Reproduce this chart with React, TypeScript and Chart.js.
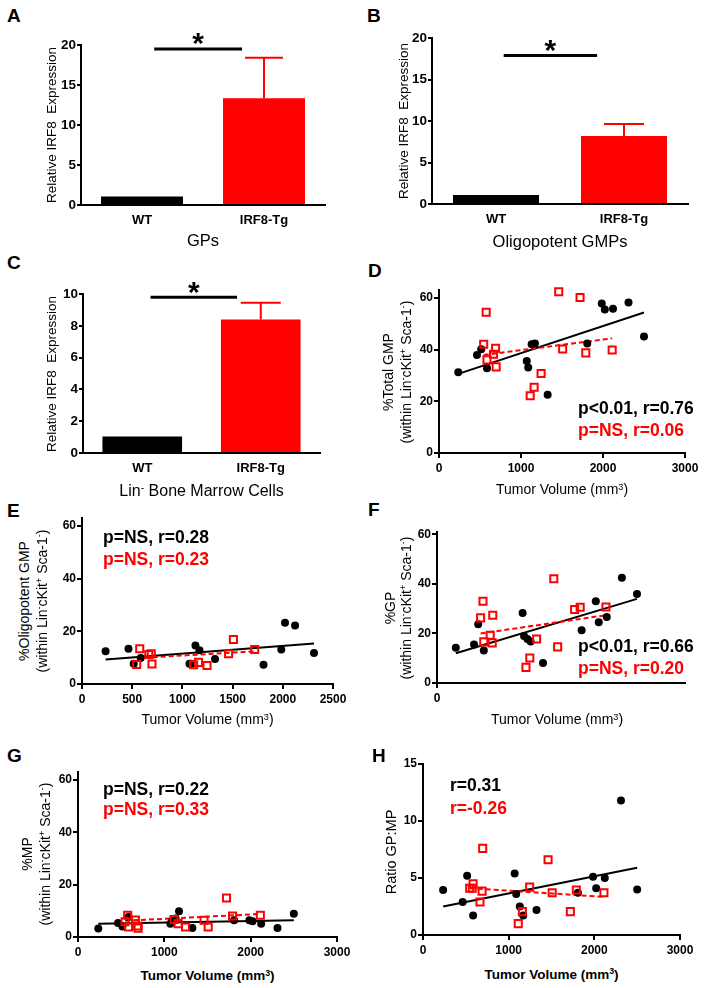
import React, { useEffect, useRef } from "react";
import { Chart, registerables } from "chart.js";

Chart.register(...registerables);

const FONT = "'Liberation Sans', Arial, Helvetica, sans-serif";
const BLACK = "#000000";
const RED = "#ff0000";

// ---------- Bar panels (A–C) ----------
const barCategories = ["WT", "IRF8-Tg"];
const gpsMean = [1.05, 13.35];
const gpsErrorTop = [1.05, 18.4];
const oligoGmpMean = [1.08, 8.2];
const oligoGmpErrorTop = [1.08, 9.65];
const linNegMean = [1.03, 8.4];
const linNegErrorTop = [1.03, 9.45];
// significance bar: from category index, to category index, level
const sigGps = [0.1, 0.82, 19.5];
const sigOligoGmp = [0.06, 0.79, 17.9];
const sigLinNeg = [0.07, 0.8, 9.8];

// ---------- Scatter panels (D–H) ----------
const wtVolume = [235, 463, 515, 585, 1070, 1088, 1130, 1170, 1325, 1808, 1985, 2022, 2122, 2311, 2500];
const wtTotalGmp = [31.2, 37.9, 40.1, 32.8, 35.6, 33.0, 42.0, 42.3, 22.5, 42.3, 57.8, 55.5, 55.8, 58.2, 45.0];
const wtOligoGmp = [12.4, 13.4, 7.7, 9.9, 7.7, 7.7, 14.6, 12.8, 9.5, 7.3, 13.1, 23.2, 22.2, 11.8, null];
const wtGp = [14.2, 15.6, 23.7, 13.1, 28.3, 19.0, 17.8, 16.8, 8.1, 21.3, 33.0, 24.5, 26.7, 42.5, 36.0];
const wtMp = [3.2, 5.3, 4.0, 7.6, 5.1, 6.0, 7.1, 9.8, 3.4, 6.4, 6.4, 6.0, 5.1, 3.4, 8.9];
const wtRatio = [3.95, 2.9, 5.2, 1.7, 5.4, 3.6, 2.5, 1.7, 2.2, 3.7, 5.1, 4.1, 5.0, 11.8, 4.0];

const tgVolume = [545, 575, 585, 665, 690, 697, 1112, 1160, 1245, 1460, 1508, 1720, 1790, 2112];
const tgTotalGmp = [42.0, 54.4, 36.0, 38.2, 40.5, 33.3, 22.1, 25.4, 30.7, 62.3, 40.2, 60.1, 38.7, 39.8];
const tgOligoGmp = [7.4, 13.4, null, 11.2, 11.5, 7.6, 7.3, 8.2, 7.0, 11.5, 16.9, 13.1, null, null];
const tgGp = [26.3, 33.0, 16.6, 19.3, 16.2, 27.4, 6.3, 10.1, 17.8, 42.1, 14.6, 29.7, 30.6, 30.7];
const tgMp = [5.8, 8.3, 3.8, 6.5, 4.2, 3.4, 6.7, 5.1, 3.8, 6.4, 3.8, 14.9, 8.0, 8.3];
const tgRatio = [4.1, 4.1, 4.5, 2.9, 3.85, 7.6, 1.0, 2.05, 4.2, 6.6, 3.7, 2.05, 3.95, 3.7];

// regression lines (x range and fitted y at both ends)
const wtFitRange = [235, 2500];
const tgFitRange = [545, 2112];
const wtOligoFitRange = [235, 2311];
const tgOligoFitRange = [545, 1720];
const fitTotalGmpWt = [30.6, 54.3];
const fitTotalGmpTg = [37.9, 44.3];
const fitOligoGmpWt = [9.3, 15.4];
const fitOligoGmpTg = [9.8, 12.4];
const fitGpWt = [12.0, 34.0];
const fitGpTg = [20.0, 27.4];
const fitMpWt = [5.1, 6.4];
const fitMpTg = [6.2, 8.8];
const fitRatioWt = [2.5, 5.9];
const fitRatioTg = [4.1, 3.35];

const statsTotalGmp = ["p<0.01, r=0.76", "p=NS, r=0.06"];
const statsOligoGmp = ["p=NS, r=0.28", "p=NS, r=0.23"];
const statsGp = ["p<0.01, r=0.66", "p=NS, r=0.20"];
const statsMp = ["p=NS, r=0.22", "p=NS, r=0.33"];
const statsRatio = ["r=0.31", "r=-0.26"];

type Box = { L: number; T: number; R: number; B: number };
type Pad = { l: number; t: number; r: number; b: number };

function padFor(box: Box): Pad {
  return { l: 46, t: 22, r: Math.min(20, 704 - box.R), b: 30 };
}

const axisBorder = { display: true, color: BLACK, width: 2 };
const tickFont = (size: number) => ({ family: FONT, size, weight: "bold" as const });

function barMarksPlugin(means: number[], errTop: number[], sig: number[], capWidth: number) {
  return {
    id: "barMarks",
    afterDatasetsDraw(chart: any) {
      const { ctx } = chart;
      const x = chart.scales.x;
      const y = chart.scales.y;
      ctx.save();
      errTop.forEach((top, i) => {
        if (top <= means[i]) return;
        const cx = x.getPixelForValue(i);
        const y0 = y.getPixelForValue(means[i]);
        const y1 = y.getPixelForValue(top);
        ctx.strokeStyle = i === 0 ? BLACK : RED;
        ctx.lineWidth = 2;
        ctx.beginPath();
        ctx.moveTo(cx, y0);
        ctx.lineTo(cx, y1);
        ctx.moveTo(cx - capWidth / 2, y1);
        ctx.lineTo(cx + capWidth / 2, y1);
        ctx.stroke();
      });
      const sx0 = x.getPixelForValue(sig[0]);
      const sx1 = x.getPixelForValue(sig[1]);
      const sy = y.getPixelForValue(sig[2]);
      ctx.strokeStyle = BLACK;
      ctx.lineWidth = 3;
      ctx.beginPath();
      ctx.moveTo(sx0, sy);
      ctx.lineTo(sx1, sy);
      ctx.stroke();
      const fs = 30;
      ctx.fillStyle = BLACK;
      ctx.font = `bold ${fs}px ${FONT}`;
      ctx.textAlign = "center";
      ctx.textBaseline = "alphabetic";
      ctx.fillText("*", (sx0 + sx1) / 2, sy - 17 + 0.716 * fs);
      ctx.restore();
    },
  };
}

function barConfig(means: number[], errTop: number[], sig: number[], yMax: number, yStep: number, capWidth: number, pad: Pad): any {
  return {
    type: "bar",
    data: {
      labels: barCategories,
      datasets: [
        {
          label: "Relative IRF8 Expression",
          data: means,
          backgroundColor: [BLACK, RED],
          borderWidth: 0,
          barPercentage: 0.84,
          categoryPercentage: 0.8,
        },
      ],
    },
    options: {
      animation: false,
      responsive: false,
      maintainAspectRatio: false,
      devicePixelRatio: 1,
      events: [],
      layout: { padding: { left: 0, top: pad.t, right: pad.r, bottom: 0 } },
      plugins: { legend: { display: false }, tooltip: { enabled: false } },
      scales: {
        x: {
          grid: { display: false, drawTicks: false },
          border: axisBorder,
          ticks: { color: BLACK, padding: 8, font: tickFont(13), maxRotation: 0 },
          afterFit: (s: any) => {
            s.height = pad.b;
          },
        },
        y: {
          min: 0,
          max: yMax,
          border: axisBorder,
          grid: { drawOnChartArea: false, drawTicks: true, tickLength: 4, color: BLACK, lineWidth: 2 },
          ticks: { stepSize: yStep, color: BLACK, padding: 1, font: tickFont(13.5), callback: (v: any) => String(v) },
          afterFit: (s: any) => {
            s.width = pad.l;
          },
        },
      },
    },
    plugins: [barMarksPlugin(means, errTop, sig, capWidth)],
  };
}

type ScatterSpec = {
  wtY: (number | null)[];
  tgY: (number | null)[];
  wtFitX: number[];
  wtFitY: number[];
  tgFitX: number[];
  tgFitY: number[];
  xMax: number;
  xStep: number;
  yMax: number;
  yStep: number;
};

function toPoints(xs: number[], ys: (number | null)[]) {
  return xs.map((x, i) => ({ x, y: ys[i] })).filter((p) => p.y !== null && p.y !== undefined);
}

function scatterConfig(s: ScatterSpec, pad: Pad): any {
  return {
    type: "scatter",
    data: {
      datasets: [
        {
          label: "IRF8-Tg",
          data: toPoints(tgVolume, s.tgY),
          pointStyle: "rect",
          pointRadius: 5,
          backgroundColor: "rgba(255,255,255,0)",
          borderColor: RED,
          borderWidth: 2,
          clip: false,
          order: 0,
        },
        {
          label: "WT",
          data: toPoints(wtVolume, s.wtY),
          pointStyle: "circle",
          pointRadius: 4,
          backgroundColor: BLACK,
          borderColor: BLACK,
          borderWidth: 0,
          clip: false,
          order: 1,
        },
        {
          label: "IRF8-Tg fit",
          data: toPoints(s.tgFitX, s.tgFitY),
          showLine: true,
          borderColor: RED,
          borderWidth: 2,
          borderDash: [5, 3],
          pointRadius: 0,
          clip: false,
          order: 2,
        },
        {
          label: "WT fit",
          data: toPoints(s.wtFitX, s.wtFitY),
          showLine: true,
          borderColor: BLACK,
          borderWidth: 2,
          pointRadius: 0,
          clip: false,
          order: 3,
        },
      ],
    },
    options: {
      animation: false,
      responsive: false,
      maintainAspectRatio: false,
      devicePixelRatio: 1,
      events: [],
      layout: { padding: { left: 0, top: pad.t, right: pad.r, bottom: 0 } },
      plugins: { legend: { display: false }, tooltip: { enabled: false } },
      scales: {
        x: {
          type: "linear",
          min: 0,
          max: s.xMax,
          border: axisBorder,
          grid: { drawOnChartArea: false, drawTicks: true, tickLength: 5, color: BLACK, lineWidth: 2 },
          ticks: {
            stepSize: s.xStep,
            includeBounds: false,
            autoSkip: false,
            maxRotation: 0,
            color: BLACK,
            padding: 3,
            font: tickFont(12),
            callback: (v: any) => String(v),
          },
          afterBuildTicks: (sc: any) => {
            sc.ticks = sc.ticks.filter((t: any) => t.value % s.xStep === 0);
          },
          afterFit: (sc: any) => {
            sc.height = pad.b;
          },
        },
        y: {
          type: "linear",
          min: 0,
          max: s.yMax,
          border: axisBorder,
          grid: { drawOnChartArea: false, drawTicks: true, tickLength: 5, color: BLACK, lineWidth: 2 },
          ticks: {
            stepSize: s.yStep,
            includeBounds: false,
            color: BLACK,
            padding: 1,
            font: tickFont(12),
            callback: (v: any) => String(v),
          },
          afterBuildTicks: (sc: any) => {
            sc.ticks = sc.ticks.filter((t: any) => t.value % s.yStep === 0);
          },
          afterFit: (sc: any) => {
            sc.width = pad.l;
          },
        },
      },
    },
  };
}

function ChartBox({ box, make }: { box: Box; make: (pad: Pad) => any }) {
  const ref = useRef<HTMLCanvasElement | null>(null);
  const pad = padFor(box);
  const w = box.R - box.L + pad.l + pad.r;
  const h = box.B - box.T + pad.t + pad.b;
  useEffect(() => {
    if (!ref.current) return;
    const chart = new Chart(ref.current, make(pad));
    return () => chart.destroy();
  }, []);
  return (
    <canvas
      ref={ref}
      width={w}
      height={h}
      style={{ position: "absolute", left: box.L - pad.l, top: box.T - pad.t, width: w, height: h }}
    />
  );
}

const Sup = ({ children }: { children: React.ReactNode }) => (
  <span style={{ fontSize: "0.65em", position: "relative", top: "-0.5em" }}>{children}</span>
);

function Txt({
  x,
  capTop,
  size,
  bold,
  color,
  center,
  children,
}: {
  x: number;
  capTop: number;
  size: number;
  bold?: boolean;
  color?: string;
  center?: boolean;
  children: React.ReactNode;
}) {
  return (
    <div
      style={{
        position: "absolute",
        left: x,
        top: capTop - 0.13 * size,
        fontSize: size,
        lineHeight: 1,
        fontFamily: FONT,
        fontWeight: bold ? 700 : 400,
        color: color || BLACK,
        whiteSpace: "pre",
        transform: center ? "translateX(-50%)" : undefined,
      }}
    >
      {children}
    </div>
  );
}

function VTxt({ cx, cy, size, children }: { cx: number; cy: number; size: number; children: React.ReactNode }) {
  return (
    <div
      style={{
        position: "absolute",
        left: cx,
        top: cy,
        fontSize: size,
        lineHeight: 1,
        fontFamily: FONT,
        color: BLACK,
        whiteSpace: "pre",
        transform: "translate(-50%, -50%) rotate(-90deg)",
      }}
    >
      {children}
    </div>
  );
}

const within = (
  <>
    (within Lin<Sup>-</Sup>cKit<Sup>+</Sup> Sca-1<Sup>-</Sup>)
  </>
);

const tumorTitle = (
  <>
    Tumor Volume (mm<Sup>3</Sup>)
  </>
);

const boxA: Box = { L: 81, T: 45, R: 325, B: 205 };
const boxB: Box = { L: 432, T: 38, R: 688, B: 204 };
const boxC: Box = { L: 83, T: 294, R: 320, B: 453 };
const boxD: Box = { L: 439, T: 290, R: 685, B: 453 };
const boxE: Box = { L: 82, T: 518, R: 333, B: 684 };
const boxF: Box = { L: 437, T: 532, R: 685, B: 683 };
const boxG: Box = { L: 78, T: 772, R: 337, B: 937 };
const boxH: Box = { L: 423, T: 764, R: 680, B: 935 };

export default function App() {
  const annSize = 17.5;
  return (
    <div
      style={{
        position: "absolute",
        left: 0,
        top: 0,
        width: 704,
        height: 988,
        overflow: "hidden",
        background: "#ffffff",
      }}
    >
      <ChartBox box={boxA} make={(pad) => barConfig(gpsMean, gpsErrorTop, sigGps, 20, 5, 38, pad)} />
      <ChartBox box={boxB} make={(pad) => barConfig(oligoGmpMean, oligoGmpErrorTop, sigOligoGmp, 20, 5, 40, pad)} />
      <ChartBox box={boxC} make={(pad) => barConfig(linNegMean, linNegErrorTop, sigLinNeg, 10, 2, 40, pad)} />
      <ChartBox
        box={boxD}
        make={(pad) =>
          scatterConfig(
            { wtY: wtTotalGmp, tgY: tgTotalGmp, wtFitX: wtFitRange, wtFitY: fitTotalGmpWt, tgFitX: tgFitRange, tgFitY: fitTotalGmpTg, xMax: 3000, xStep: 1000, yMax: 63, yStep: 20 },
            pad
          )
        }
      />
      <ChartBox
        box={boxE}
        make={(pad) =>
          scatterConfig(
            { wtY: wtOligoGmp, tgY: tgOligoGmp, wtFitX: wtOligoFitRange, wtFitY: fitOligoGmpWt, tgFitX: tgOligoFitRange, tgFitY: fitOligoGmpTg, xMax: 2500, xStep: 500, yMax: 63, yStep: 20 },
            pad
          )
        }
      />
      <ChartBox
        box={boxF}
        make={(pad) =>
          scatterConfig(
            { wtY: wtGp, tgY: tgGp, wtFitX: wtFitRange, wtFitY: fitGpWt, tgFitX: tgFitRange, tgFitY: fitGpTg, xMax: 3100, xStep: 1000, yMax: 61, yStep: 20 },
            pad
          )
        }
      />
      <ChartBox
        box={boxG}
        make={(pad) =>
          scatterConfig(
            { wtY: wtMp, tgY: tgMp, wtFitX: wtFitRange, wtFitY: fitMpWt, tgFitX: tgFitRange, tgFitY: fitMpTg, xMax: 3000, xStep: 1000, yMax: 63, yStep: 20 },
            pad
          )
        }
      />
      <ChartBox
        box={boxH}
        make={(pad) =>
          scatterConfig(
            { wtY: wtRatio, tgY: tgRatio, wtFitX: wtFitRange, wtFitY: fitRatioWt, tgFitX: tgFitRange, tgFitY: fitRatioTg, xMax: 3000, xStep: 1000, yMax: 15, yStep: 5 },
            pad
          )
        }
      />

      {/* panel letters */}
      <Txt x={7} capTop={8} size={19} bold>A</Txt>
      <Txt x={367} capTop={8} size={19} bold>B</Txt>
      <Txt x={7} capTop={255} size={19} bold>C</Txt>
      <Txt x={368} capTop={263} size={19} bold>D</Txt>
      <Txt x={7} capTop={503} size={19} bold>E</Txt>
      <Txt x={368} capTop={502} size={19} bold>F</Txt>
      <Txt x={7} capTop={748} size={19} bold>G</Txt>
      <Txt x={372} capTop={748} size={19} bold>H</Txt>

      {/* bar panel titles */}
      <Txt x={203} capTop={234} size={16.5} center>GPs</Txt>
      <Txt x={560} capTop={235} size={16.5} center>Oligopotent GMPs</Txt>
      <Txt x={201.5} capTop={485} size={16} center>
        Lin<Sup>-</Sup> Bone Marrow Cells
      </Txt>

      {/* bar y titles */}
      <VTxt cx={52} cy={125} size={13.5}>Relative IRF8  Expression</VTxt>
      <VTxt cx={404} cy={121} size={13.5}>Relative IRF8  Expression</VTxt>
      <VTxt cx={51.5} cy={373.5} size={13.5}>Relative IRF8  Expression</VTxt>

      {/* scatter y titles */}
      <VTxt cx={388} cy={371.5} size={14}>%Total GMP</VTxt>
      <VTxt cx={406} cy={371.5} size={14}>{within}</VTxt>
      <VTxt cx={24} cy={601} size={14}>%Oligopotent GMP</VTxt>
      <VTxt cx={42} cy={601} size={14}>{within}</VTxt>
      <VTxt cx={390} cy={607.5} size={14}>%GP</VTxt>
      <VTxt cx={406} cy={607.5} size={14}>{within}</VTxt>
      <VTxt cx={27} cy={854} size={14}>%MP</VTxt>
      <VTxt cx={45} cy={854} size={14}>{within}</VTxt>
      <VTxt cx={391} cy={852} size={14.5}>Ratio GP:MP</VTxt>

      {/* scatter x titles */}
      <Txt x={562} capTop={484} size={14} center>{tumorTitle}</Txt>
      <Txt x={207.5} capTop={714.3} size={14} center>{tumorTitle}</Txt>
      <Txt x={557} capTop={714.3} size={14} center>{tumorTitle}</Txt>
      <Txt x={207.5} capTop={971} size={13.5} bold center>{tumorTitle}</Txt>
      <Txt x={551.5} capTop={969.3} size={13.5} bold center>{tumorTitle}</Txt>

      {/* correlation statistics */}
      <Txt x={578} capTop={402.3} size={annSize} bold>{statsTotalGmp[0]}</Txt>
      <Txt x={578} capTop={424.3} size={annSize} bold color={RED}>{statsTotalGmp[1]}</Txt>
      <Txt x={103} capTop={531.7} size={annSize} bold>{statsOligoGmp[0]}</Txt>
      <Txt x={103} capTop={553} size={annSize} bold color={RED}>{statsOligoGmp[1]}</Txt>
      <Txt x={578} capTop={640} size={annSize} bold>{statsGp[0]}</Txt>
      <Txt x={578} capTop={662.3} size={annSize} bold color={RED}>{statsGp[1]}</Txt>
      <Txt x={103} capTop={783} size={annSize} bold>{statsMp[0]}</Txt>
      <Txt x={103} capTop={803.3} size={annSize} bold color={RED}>{statsMp[1]}</Txt>
      <Txt x={450} capTop={779} size={annSize} bold>{statsRatio[0]}</Txt>
      <Txt x={450} capTop={802} size={annSize} bold color={RED}>{statsRatio[1]}</Txt>
    </div>
  );
}
